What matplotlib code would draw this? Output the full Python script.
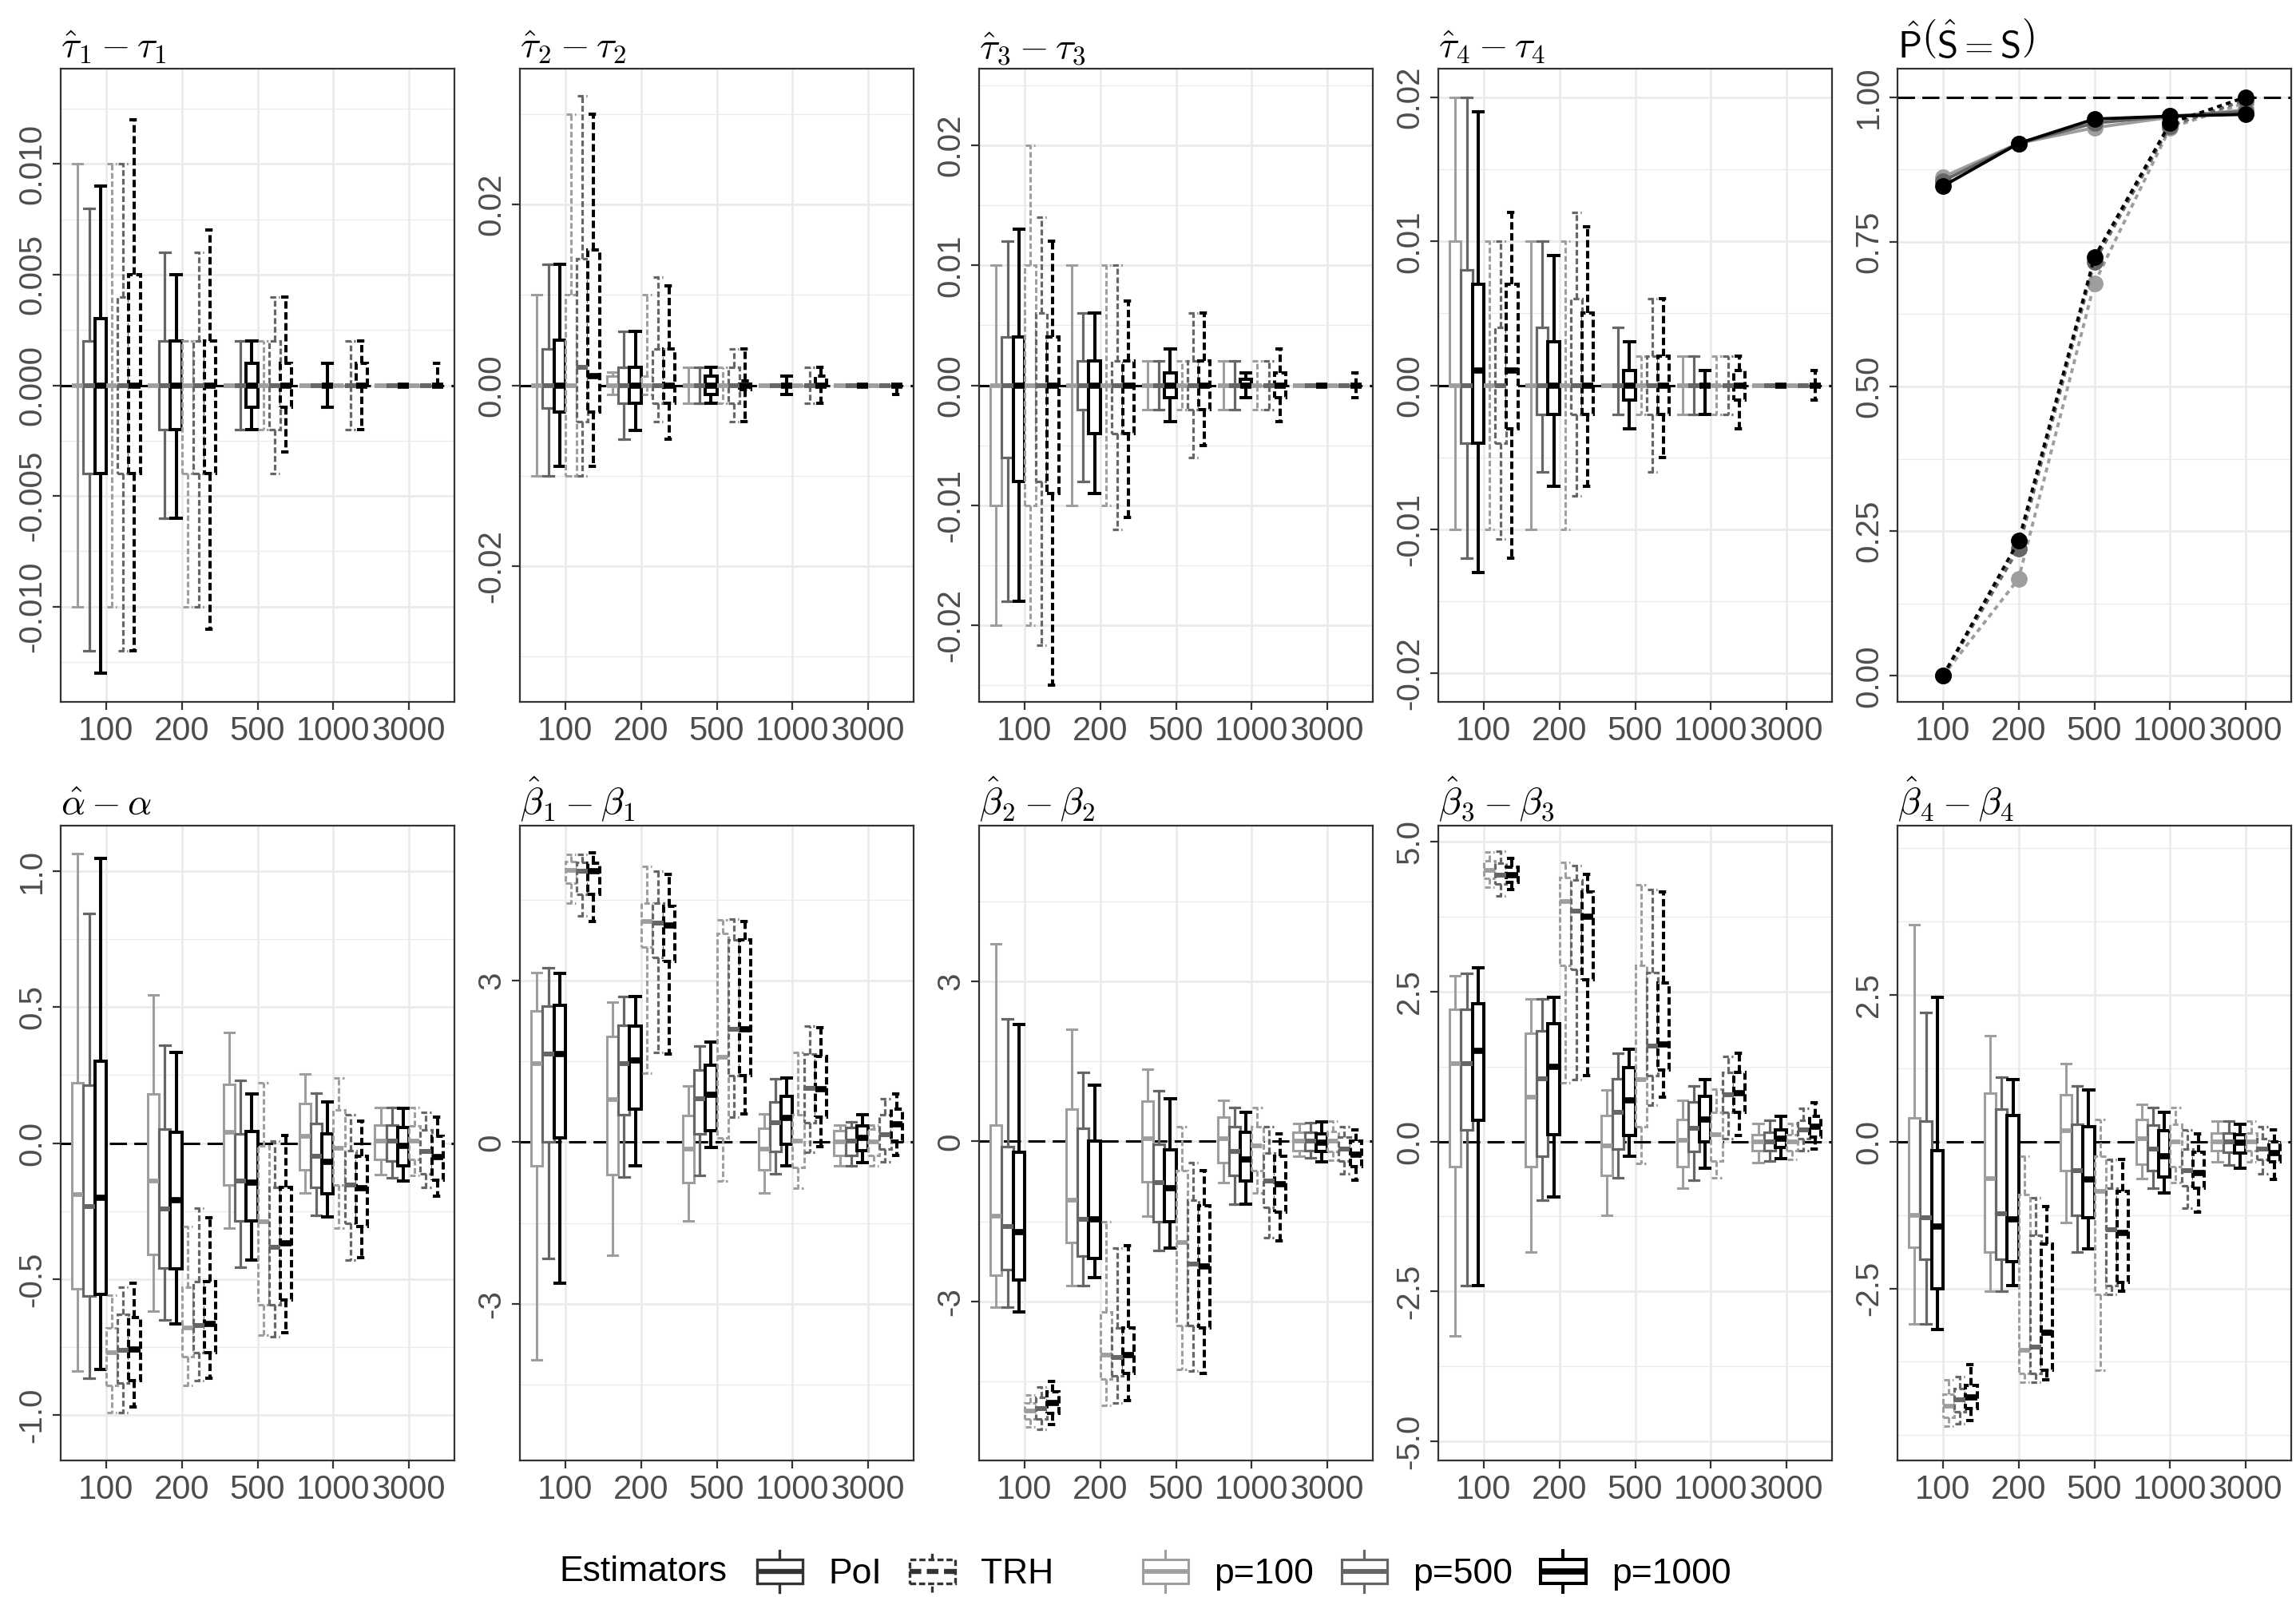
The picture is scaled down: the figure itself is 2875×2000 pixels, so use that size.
import numpy as np
import matplotlib
matplotlib.use("Agg")
import matplotlib.pyplot as plt
from matplotlib.legend_handler import HandlerBase
from matplotlib.lines import Line2D
from matplotlib.patches import Rectangle
from matplotlib.ticker import FixedLocator, MultipleLocator, FixedFormatter

plt.rcParams["font.family"] = ["Liberation Sans", "DejaVu Sans"]
plt.rcParams["mathtext.fontset"] = "cm"
plt.rcParams["axes.unicode_minus"] = False

# ---------------------------------------------------------------- data
sample_sizes = ["100", "200", "500", "1000", "3000"]
estimators = ["PoI", "TRH"]
dims = ["p=100", "p=500", "p=1000"]

# every row: one sample size; six boxes in the order
# PoI p=100, PoI p=500, PoI p=1000, TRH p=100, TRH p=500, TRH p=1000
# each box: (lower whisker, q1, median, q3, upper whisker)
TAU_UNIT = 1e-3   # tau panels are written in thousandths

tau1 = [
    [(-10, 0, 0, 0, 10), (-12, -4, 0, 2, 8), (-13, -4, 0, 3, 9), (-10, 0, 0, 0, 10), (-12, -4, 0, 4, 10), (-12, -4, 0, 5, 12)],
    [(0, 0, 0, 0, 0), (-6, -2, 0, 2, 6), (-6, -2, 0, 2, 5), (-10, -4, 0, 2, 2), (-10, -4, 0, 2, 6), (-11, -4, 0, 2, 7)],
    [(0, 0, 0, 0, 0), (-2, 0, 0, 0, 2), (-2, -1, 0, 1, 2), (-2, 0, 0, 0, 2), (-4, -2, 0, 2, 4), (-3, -1, 0, 1, 4)],
    [(0, 0, 0, 0, 0), (0, 0, 0, 0, 0), (-1, 0, 0, 0, 1), (0, 0, 0, 0, 0), (-2, 0, 0, 0, 2), (-2, 0, 0, 1, 2)],
    [(0, 0, 0, 0, 0), (0, 0, 0, 0, 0), (0, 0, 0, 0, 0), (0, 0, 0, 0, 0), (0, 0, 0, 0, 0), (0, 0, 0, 0, 1)],
]
tau2 = [
    [(-10, 0, 0, 0, 10), (-10, -2.5, 0, 4, 13.4), (-9, -3, 0, 5, 13.4), (-10, -10, 0, 10, 30), (-10, -4, 2, 14, 32), (-9, -3, 1, 15, 30)],
    [(-1, 0, 0, 1, 1.5), (-6, -2, 0, 2, 6), (-5, -2, 0, 2, 6), (-1, 0, 0, 1, 10), (-4, -2, 0, 4, 12), (-6, -2, 0, 4, 11)],
    [(-2, 0, 0, 0, 2), (-2, 0, 0, 0, 2), (-2, -1, 0, 1, 2), (-2, 0, 0, 0, 2), (-4, -2, 0, 2, 4), (-4, -0.5, 0, 0.5, 4)],
    [(0, 0, 0, 0, 0), (0, 0, 0, 0, 0), (-1, 0, 0, 0, 1), (0, 0, 0, 0, 0), (-2, 0, 0, 0, 2), (-2, 0, 0, 1, 2)],
    [(0, 0, 0, 0, 0), (0, 0, 0, 0, 0), (0, 0, 0, 0, 0), (0, 0, 0, 0, 0), (0, 0, 0, 0, 0), (-1, 0, 0, 0, 0)],
]
tau3 = [
    [(-20, -10, 0, 0, 10), (-18, -6, 0, 4, 12), (-18, -8, 0, 4, 13), (-20, -10, 0, 10, 20), (-21.7, -8, 0, 6, 14), (-25, -9, 0, 4, 12)],
    [(-10, 0, 0, 0, 10), (-8, -2, 0, 2, 6), (-9, -4, 0, 2, 6), (-10, 0, 0, 0, 10), (-12, -4, 0, 2, 10), (-11, -4, 0, 2, 7)],
    [(-2, 0, 0, 0, 2), (-2, 0, 0, 0, 2), (-3, -1, 0, 1, 3), (-2, 0, 0, 0, 2), (-6, -2, 0, 2, 6), (-5, -2, 0, 2, 6)],
    [(-2, 0, 0, 0, 2), (-2, 0, 0, 0, 2), (-1, 0, 0, 0.5, 1), (-2, 0, 0, 0, 2), (-2, 0, 0, 0, 2), (-3, -1, 0, 1, 3)],
    [(0, 0, 0, 0, 0), (0, 0, 0, 0, 0), (0, 0, 0, 0, 0), (0, 0, 0, 0, 0), (0, 0, 0, 0, 0), (-1, 0, 0, 0, 1)],
]
tau4 = [
    [(-10, 0, 0, 10, 20), (-12, -4, 0, 8, 20), (-13, -4, 1, 7, 19), (-10, 0, 0, 0, 10), (-10.7, -4, 0, 4, 10), (-12, -3, 1, 7, 12)],
    [(-10, 0, 0, 0, 10), (-6, -2, 0, 4, 10), (-7, -2, 0, 3, 9), (-10, 0, 0, 0, 10), (-7.7, -2, 0, 6, 12), (-7, -2, 0, 5, 11)],
    [(0, 0, 0, 0, 0), (-2, 0, 0, 0, 4), (-3, -1, 0, 1, 3), (-2, 0, 0, 0, 2), (-6, -2, 0, 2, 6), (-5, -2, 0, 2, 6)],
    [(-2, 0, 0, 0, 2), (-2, 0, 0, 0, 2), (-2, 0, 0, 0, 1), (-2, 0, 0, 0, 2), (-2, 0, 0, 0, 2), (-3, -1, 0, 1, 2)],
    [(0, 0, 0, 0, 0), (0, 0, 0, 0, 0), (0, 0, 0, 0, 0), (0, 0, 0, 0, 0), (0, 0, 0, 0, 0), (-1, 0, 0, 0, 1)],
]

alpha = [
    [(-0.837, -0.534, -0.19, 0.221, 1.064), (-0.865, -0.562, -0.232, 0.212, 0.843), (-0.833, -0.556, -0.2, 0.301, 1.045),
     (-0.99, -0.89, -0.77, -0.68, -0.56), (-0.99, -0.88, -0.762, -0.63, -0.53), (-0.97, -0.874, -0.758, -0.64, -0.515)],
    [(-0.616, -0.41, -0.139, 0.18, 0.543), (-0.65, -0.46, -0.243, 0.05, 0.36), (-0.665, -0.462, -0.21, 0.04, 0.333),
     (-0.89, -0.785, -0.678, -0.528, -0.307), (-0.874, -0.77, -0.669, -0.51, -0.238), (-0.865, -0.77, -0.665, -0.51, -0.275)],
    [(-0.313, -0.154, 0.04, 0.217, 0.405), (-0.457, -0.285, -0.139, 0.034, 0.23), (-0.429, -0.285, -0.144, 0.043, 0.18),
     (-0.706, -0.594, -0.29, -0.01, 0.221), (-0.71, -0.594, -0.382, -0.163, 0.006), (-0.697, -0.575, -0.369, -0.163, 0.028)],
    [(-0.182, -0.097, 0.024, 0.146, 0.255), (-0.266, -0.163, -0.047, 0.071, 0.183), (-0.271, -0.185, -0.069, 0.034, 0.152),
     (-0.313, -0.154, -0.019, 0.122, 0.24), (-0.431, -0.294, -0.154, -0.028, 0.103), (-0.42, -0.307, -0.167, -0.047, 0.08)],
    [(-0.116, -0.06, 0.006, 0.067, 0.131), (-0.129, -0.066, 0.006, 0.067, 0.131), (-0.14, -0.084, -0.009, 0.056, 0.127),
     (-0.12, -0.06, 0.006, 0.062, 0.131), (-0.163, -0.112, -0.032, 0.047, 0.112), (-0.195, -0.135, -0.05, 0.024, 0.096)],
]
beta1 = [
    [(-4.04, -0.43, 1.46, 2.44, 3.15), (-2.15, 0, 1.63, 2.53, 3.23), (-2.62, 0.085, 1.63, 2.54, 3.13),
     (4.43, 4.81, 5.04, 5.21, 5.34), (4.19, 4.6, 5.02, 5.19, 5.34), (4.09, 4.6, 5.02, 5.17, 5.36)],
    [(-2.1, -0.6, 0.79, 1.96, 2.6), (-0.64, 0.51, 1.46, 2.17, 2.7), (-0.43, 0.62, 1.51, 2.15, 2.7),
     (1.28, 3.62, 4.1, 4.43, 5.11), (1.66, 3.43, 4.07, 4.43, 5.02), (1.64, 3.36, 4.02, 4.38, 4.96)],
    [(-1.46, -0.75, -0.13, 0.49, 1.04), (-0.62, 0.15, 0.81, 1.34, 1.79), (-0.1, 0.21, 0.88, 1.43, 1.86),
     (-0.72, 0.085, 1.57, 3.87, 4.13), (0.47, 1.23, 2.1, 3.76, 4.14), (0.53, 1.23, 2.1, 3.76, 4.1)],
    [(-0.94, -0.51, -0.13, 0.26, 0.53), (-0.58, -0.17, 0.36, 0.75, 1.17), (-0.44, -0.04, 0.45, 0.85, 1.19),
     (-0.85, -0.47, 0.02, 0.51, 1.66), (-0.19, 0.36, 1.0, 1.63, 2.15), (-0.085, 0.47, 0.98, 1.59, 2.13)],
    [(-0.43, -0.24, 0, 0.21, 0.32), (-0.43, -0.24, 0.02, 0.27, 0.38), (-0.38, -0.15, 0.085, 0.3, 0.51),
     (-0.43, -0.24, 0, 0.24, 0.32), (-0.36, -0.13, 0.14, 0.51, 0.81), (-0.24, 0.02, 0.34, 0.61, 0.89)],
]
beta2 = [
    [(-3.1, -2.5, -1.4, 0.3, 3.7), (-3.1, -2.4, -1.6, -0.1, 2.3), (-3.2, -2.6, -1.7, -0.2, 2.2),
     (-5.35, -5.2, -5.05, -4.9, -4.75), (-5.4, -5.2, -5.0, -4.8, -4.6), (-5.3, -5.1, -4.9, -4.7, -4.5)],
    [(-2.7, -1.9, -1.1, 0.6, 2.1), (-2.7, -2.15, -1.46, 0.25, 1.3), (-2.55, -2.2, -1.46, 0, 1.05),
     (-4.95, -4.45, -4.0, -3.2, -1.5), (-4.9, -4.4, -4.05, -3.5, -2.0), (-4.85, -4.35, -4.0, -3.5, -1.95)],
    [(-1.4, -0.75, 0.05, 0.75, 1.35), (-2.05, -1.5, -0.77, -0.05, 0.95), (-2.0, -1.5, -0.88, -0.15, 0.8),
     (-4.27, -3.45, -1.9, -0.55, 0.28), (-4.3, -3.45, -2.3, -1.1, -0.4), (-4.35, -3.5, -2.35, -1.2, -0.55)],
    [(-0.77, -0.4, 0.05, 0.45, 0.77), (-1.18, -0.63, -0.19, 0.28, 0.63), (-1.18, -0.74, -0.33, 0.17, 0.55),
     (-0.96, -0.55, -0.08, 0.28, 0.63), (-1.8, -1.24, -0.74, -0.22, 0.28), (-1.87, -1.32, -0.8, -0.28, 0.14)],
    [(-0.28, -0.17, 0, 0.17, 0.33), (-0.3, -0.17, 0, 0.17, 0.35), (-0.38, -0.19, -0.03, 0.14, 0.36),
     (-0.35, -0.18, 0, 0.18, 0.38), (-0.6, -0.36, -0.14, 0.08, 0.28), (-0.72, -0.47, -0.25, 0, 0.22)],
]
beta3 = [
    [(-3.24, -0.42, 1.3, 2.2, 2.77), (-2.4, 0.2, 1.3, 2.2, 2.8), (-2.4, 0.35, 1.52, 2.3, 2.9),
     (4.24, 4.39, 4.53, 4.68, 4.83), (4.1, 4.3, 4.45, 4.65, 4.85), (4.2, 4.33, 4.45, 4.58, 4.72)],
    [(-1.84, -0.42, 0.74, 1.81, 2.38), (-0.98, -0.25, 1.05, 1.84, 2.38), (-0.93, 0.12, 1.25, 1.96, 2.4),
     (0.98, 2.94, 4.0, 4.4, 4.66), (1.03, 2.87, 3.85, 4.36, 4.6), (1.1, 2.7, 3.75, 4.17, 4.46)],
    [(-1.23, -0.56, -0.07, 0.44, 0.86), (-0.61, -0.12, 0.49, 1.05, 1.47), (-0.25, 0.1, 0.69, 1.23, 1.54),
     (-0.37, 0.25, 1.03, 2.94, 4.29), (0.61, 1.1, 1.59, 2.82, 4.2), (0.74, 1.2, 1.62, 2.65, 4.17)],
    [(-0.78, -0.42, 0.02, 0.37, 0.69), (-0.64, -0.17, 0.22, 0.66, 0.93), (-0.44, 0, 0.37, 0.76, 1.03),
     (-0.61, -0.32, 0.12, 0.49, 0.88), (0.05, 0.49, 0.78, 1.15, 1.42), (0.1, 0.49, 0.81, 1.15, 1.47)],
    [(-0.35, -0.15, 0, 0.12, 0.3), (-0.32, -0.15, 0, 0.15, 0.35), (-0.28, -0.1, 0.05, 0.2, 0.42),
     (-0.3, -0.15, 0, 0.12, 0.3), (-0.15, 0.05, 0.2, 0.35, 0.55), (-0.12, 0.08, 0.25, 0.42, 0.65)],
]
beta4 = [
    [(-3.1, -1.8, -1.25, 0.4, 3.7), (-3.1, -2.0, -1.3, 0.35, 2.2), (-3.2, -2.5, -1.45, -0.15, 2.45),
     (-4.85, -4.7, -4.5, -4.3, -4.05), (-4.8, -4.6, -4.4, -4.2, -4.0), (-4.75, -4.55, -4.35, -4.15, -3.8)],
    [(-2.55, -1.88, -0.63, 0.82, 1.8), (-2.55, -2.0, -1.23, 0.55, 1.1), (-2.45, -2.05, -1.33, 0.45, 1.05),
     (-4.1, -3.95, -3.55, -0.9, -0.25), (-4.1, -3.95, -3.5, -1.6, -0.95), (-4.05, -3.9, -3.25, -1.75, -1.1)],
    [(-1.38, -0.5, 0.18, 0.8, 1.33), (-1.88, -1.25, -0.5, 0.3, 0.95), (-1.83, -1.3, -0.65, 0.25, 0.88),
     (-3.9, -2.6, -0.85, -0.25, 0.38), (-2.6, -2.45, -1.5, -0.8, -0.3), (-2.55, -2.4, -1.55, -0.85, -0.3)],
    [(-0.63, -0.38, 0.05, 0.38, 0.63), (-0.8, -0.5, -0.13, 0.28, 0.58), (-0.88, -0.6, -0.25, 0.18, 0.5),
     (-0.7, -0.43, 0, 0.3, 0.58), (-1.13, -0.75, -0.5, -0.13, 0.2), (-1.2, -0.8, -0.53, -0.18, 0.13)],
    [(-0.35, -0.15, 0, 0.15, 0.35), (-0.4, -0.18, 0, 0.15, 0.35), (-0.45, -0.2, -0.02, 0.12, 0.3),
     (-0.35, -0.15, 0, 0.15, 0.35), (-0.55, -0.3, -0.13, 0.05, 0.25), (-0.65, -0.35, -0.2, 0, 0.2)],
]

# probability of recovering the true set, one row per p
prob_poi = [
    [0.862, 0.92, 0.947, 0.965, 0.978],
    [0.855, 0.92, 0.955, 0.967, 0.975],
    [0.846, 0.92, 0.962, 0.967, 0.970],
]
prob_trh = [
    [0.0, 0.168, 0.678, 0.947, 0.990],
    [0.0, 0.220, 0.715, 0.950, 0.995],
    [0.0, 0.233, 0.723, 0.955, 1.000],
]

# ---------------------------------------------------------------- style
dim_colors = ["#9E9E9E", "#666666", "#000000"]
dim_widths = [1.1, 1.15, 1.45]
est_styles = ["-", (0, (2.3, 1.1))]
HLINE_STYLE = (0, (7, 3))
GRID = "#EBEBEB"
FRAME = "#333333"
TICKTXT = "#4D4D4D"
BOX_W = 0.15
CAP_W = 0.13


def style_axes(ax, ylim, yticks, fmt):
    ax.set_xlim(0.4, 5.6)
    ax.set_ylim(*ylim)
    ax.set_xticks(np.arange(1, 6))
    ax.set_xticklabels(sample_sizes)
    ax.yaxis.set_major_locator(FixedLocator(yticks))
    ax.yaxis.set_major_formatter(FixedFormatter([fmt % t for t in yticks]))
    step = yticks[1] - yticks[0]
    ax.yaxis.set_minor_locator(MultipleLocator(step / 2))
    ax.grid(True, which="major", color=GRID, lw=1.0)
    ax.grid(True, which="minor", axis="y", color=GRID, lw=0.5)
    ax.set_axisbelow(True)
    for sp in ax.spines.values():
        sp.set_color(FRAME)
        sp.set_linewidth(0.8)
    ax.tick_params(which="major", length=3.6, width=0.8, color=FRAME,
                   labelcolor=TICKTXT, pad=2.5)
    ax.tick_params(axis="x", labelsize=15)
    ax.tick_params(axis="y", labelsize=14.5, labelrotation=90)
    ax.tick_params(which="minor", length=0)
    for lab in ax.get_yticklabels():
        lab.set_va("center")


def draw_boxes(ax, rows, unit=1.0):
    arr = np.asarray(rows, dtype=float) * unit
    x = np.arange(1, 6)
    offsets = (np.arange(6) - 2.5) * BOX_W
    ax.axhline(0, color="black", lw=1.1, ls=HLINE_STYLE, zorder=1.5)
    for k in range(6):
        e, d = divmod(k, 3)
        c, ls, lw = dim_colors[d], est_styles[e], dim_widths[d]
        stats = [dict(whislo=a[0], q1=a[1], med=a[2], q3=a[3], whishi=a[4]) for a in arr[:, k]]
        ax.bxp(stats, positions=x + offsets[k], widths=BOX_W, capwidths=CAP_W,
               patch_artist=True, showfliers=False, manage_ticks=False, zorder=2 + k * 0.01,
               boxprops=dict(facecolor="white", edgecolor=c, linewidth=lw, linestyle=ls),
               whiskerprops=dict(color=c, linewidth=lw, linestyle=ls),
               capprops=dict(color=c, linewidth=lw, linestyle=ls),
               medianprops=dict(color=c, linewidth=lw * 1.9, linestyle=ls, solid_capstyle="butt"))


fig = plt.figure(figsize=(14.375, 10), dpi=200)
W, H = 2875.0, 2000.0
col_left = [76, 651, 1226, 1801, 2376]
panel_w = 493
rows_px = [(86, 879), (1034, 1829)]


def make_ax(r, c):
    top, bot = rows_px[r]
    return fig.add_axes([col_left[c] / W, 1 - bot / H, panel_w / W, (bot - top) / H])


TITLE_KW = dict(loc="left", fontsize=17, pad=5)

top_panels = [
    (r"$\hat{\tau}_1 - \tau_1$", tau1, (-0.0143, 0.0143), [-0.01, -0.005, 0, 0.005, 0.01], "%.3f"),
    (r"$\hat{\tau}_2 - \tau_2$", tau2, (-0.035, 0.035), [-0.02, 0, 0.02], "%.2f"),
    (r"$\hat{\tau}_3 - \tau_3$", tau3, (-0.0264, 0.0264), [-0.02, -0.01, 0, 0.01, 0.02], "%.2f"),
    (r"$\hat{\tau}_4 - \tau_4$", tau4, (-0.022, 0.022), [-0.02, -0.01, 0, 0.01, 0.02], "%.2f"),
]
for c, (title, rows, ylim, ticks, fmt) in enumerate(top_panels):
    ax = make_ax(0, c)
    draw_boxes(ax, rows, TAU_UNIT)
    style_axes(ax, ylim, ticks, fmt)
    ax.set_title(title, **TITLE_KW)

# selection probability panel
ax = make_ax(0, 4)
ax.axhline(1.0, color="black", lw=1.1, ls=HLINE_STYLE, zorder=1.5)
xs = np.arange(1, 6)
for d in range(3):
    ax.plot(xs, prob_poi[d], color=dim_colors[d], lw=1.4, ls="-", marker="o", ms=6.5, zorder=3 + d)
    ax.plot(xs, prob_trh[d], color=dim_colors[d], lw=1.4, ls=(0, (1.6, 1.4)), marker="o", ms=6.5, zorder=3 + d)
style_axes(ax, (-0.045, 1.049), [0, 0.25, 0.5, 0.75, 1.0], "%.2f")
ax.set_title(r"$\hat{\mathsf{P}}\left(\hat{\mathsf{S}} = \mathsf{S}\right)$", **TITLE_KW)

bottom_panels = [
    (r"$\hat{\alpha} - \alpha$", alpha, (-1.166, 1.166), [-1.0, -0.5, 0, 0.5, 1.0], "%.1f"),
    (r"$\hat{\beta}_1 - \beta_1$", beta1, (-5.9, 5.87), [-3, 0, 3], "%d"),
    (r"$\hat{\beta}_2 - \beta_2$", beta2, (-5.98, 5.92), [-3, 0, 3], "%d"),
    (r"$\hat{\beta}_3 - \beta_3$", beta3, (-5.32, 5.27), [-5.0, -2.5, 0, 2.5, 5.0], "%.1f"),
    (r"$\hat{\beta}_4 - \beta_4$", beta4, (-5.43, 5.38), [-2.5, 0, 2.5], "%.1f"),
]
for c, (title, rows, ylim, ticks, fmt) in enumerate(bottom_panels):
    ax = make_ax(1, c)
    draw_boxes(ax, rows)
    style_axes(ax, ylim, ticks, fmt)
    ax.set_title(title, **TITLE_KW)


# ---------------------------------------------------------------- legend
class KeySpec:
    def __init__(self, color, ls, lw):
        self.color, self.ls, self.lw = color, ls, lw


class BoxKey(HandlerBase):
    def create_artists(self, legend, h, xd, yd, width, height, fontsize, trans):
        x0, y0 = -xd, -yd
        cx = x0 + width / 2
        lo, hi = y0 + height * 0.22, y0 + height * 0.78
        kw = dict(color=h.color, lw=h.lw, ls=h.ls, transform=trans)
        wl = Line2D([cx, cx], [y0, lo], **kw)
        wh = Line2D([cx, cx], [hi, y0 + height], **kw)
        box = Rectangle((x0, lo), width, hi - lo, facecolor="white", edgecolor=h.color,
                        lw=h.lw, ls=h.ls, transform=trans)
        med = Line2D([x0, x0 + width], [(lo + hi) / 2] * 2, color=h.color, lw=h.lw * 1.9,
                     ls=h.ls, transform=trans, solid_capstyle="butt")
        return [wl, wh, box, med]


LEG_Y = 1 - 1968 / H
leg_kw = dict(loc="center left", frameon=False, fontsize=16, borderpad=0, borderaxespad=0,
              handlelength=1.28, handleheight=1.42, handletextpad=0.72, columnspacing=0.79,
              handler_map={KeySpec: BoxKey()})
fig.text(700 / W, LEG_Y, "Estimators", fontsize=16, va="center", ha="left")
est_keys = [KeySpec(FRAME, est_styles[0], 1.2), KeySpec(FRAME, est_styles[1], 1.2)]
fig.legend(est_keys, estimators, ncol=2, bbox_to_anchor=(948 / W, LEG_Y), **leg_kw)
dim_keys = [KeySpec(dim_colors[d], "-", dim_widths[d]) for d in range(3)]
fig.legend(dim_keys, dims, ncol=3, bbox_to_anchor=(1431 / W, LEG_Y), **leg_kw)

fig.savefig("out.png", dpi=200)
